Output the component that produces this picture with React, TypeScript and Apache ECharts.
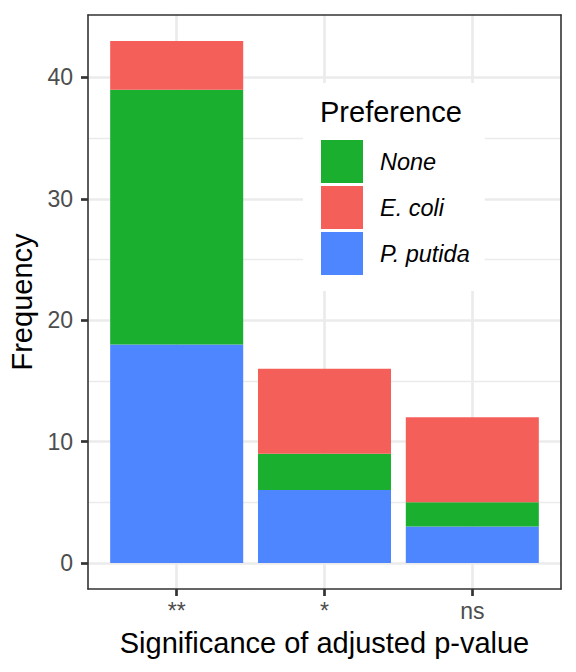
import React, { useEffect, useRef } from "react";
import * as echarts from "echarts";

const categories = ["**", "*", "ns"];
const categoryPositions = [1, 2, 3];
const pPutida = [18, 6, 3];
const noneVals = [21, 3, 2];
const eColi = [4, 7, 7];
const yMajor = [0, 10, 20, 30, 40];
const yMinor = [5, 15, 25, 35];
const legendOrder = ["None", "E. coli", "P. putida"];

const FONT = "'Liberation Sans', Arial, sans-serif";
const GRID_COLOR = "#EBEBEB";
const DARK = "#333333";

export default function App() {
  const ref = useRef<HTMLDivElement>(null);

  useEffect(() => {
    document.body.style.margin = "0";
    if (!ref.current) return;
    const chart = echarts.init(ref.current, null, { renderer: "svg" });

    const yMin = -2.15;
    const yMax = 45.15;
    const xMin = 0.4;
    const xMax = 3.6;

    const panelLeft = 88;
    const panelTop = 15;
    const panelWidth = 473;
    const panelHeight = 574;
    const unit = panelWidth / (xMax - xMin);
    const barGridLeft = panelLeft + (0.5 - xMin) * unit;
    const barGridWidth = categories.length * unit;

    const gridLines = [
      ...yMinor.map((v) => ({ yAxis: v, lineStyle: { color: GRID_COLOR, width: 1.35, type: "solid" } })),
      ...yMajor.map((v) => ({ yAxis: v, lineStyle: { color: GRID_COLOR, width: 2.7, type: "solid" } })),
      ...categoryPositions.map((v) => ({ xAxis: v, lineStyle: { color: GRID_COLOR, width: 2.7, type: "solid" } })),
    ];

    const frameLine = { show: true, onZero: false, lineStyle: { color: DARK, width: 1.6 } };

    const option: any = {
      animation: false,
      textStyle: { fontFamily: FONT },
      grid: [
        {
          left: panelLeft,
          top: panelTop,
          width: panelWidth,
          height: panelHeight,
          containLabel: false,
          outerBoundsMode: "none",
        },
        {
          left: barGridLeft,
          top: panelTop,
          width: barGridWidth,
          height: panelHeight,
          containLabel: false,
          outerBoundsMode: "none",
        },
      ],
      xAxis: [
        {
          type: "value",
          gridIndex: 0,
          min: xMin,
          max: xMax,
          z: 5,
          position: "bottom",
          splitLine: { show: false },
          axisLine: frameLine,
          name: "Significance of adjusted p-value",
          nameLocation: "middle",
          nameGap: 39,
          nameTextStyle: { fontSize: 29, color: "#000000", fontFamily: FONT },
          axisTick: {
            show: true,
            customValues: categoryPositions,
            length: 7,
            lineStyle: { color: DARK, width: 2.7 },
          },
          axisLabel: {
            show: true,
            customValues: categoryPositions,
            margin: 10,
            fontSize: 23,
            color: "#4D4D4D",
            fontFamily: FONT,
            formatter: (v: number) => categories[Math.round(v) - 1] ?? "",
          },
        },
        {
          type: "value",
          gridIndex: 0,
          min: xMin,
          max: xMax,
          z: 5,
          position: "top",
          splitLine: { show: false },
          axisLine: frameLine,
          axisTick: { show: false },
          axisLabel: { show: false },
        },
        {
          type: "category",
          gridIndex: 1,
          data: categories,
          show: false,
          axisLine: { show: false },
          axisTick: { show: false },
          axisLabel: { show: false },
          splitLine: { show: false },
        },
      ],
      yAxis: [
        {
          type: "value",
          gridIndex: 0,
          min: yMin,
          max: yMax,
          z: 5,
          position: "left",
          splitLine: { show: false },
          axisLine: frameLine,
          name: "Frequency",
          nameLocation: "middle",
          nameGap: 46,
          nameTextStyle: { fontSize: 29, color: "#000000", fontFamily: FONT },
          axisTick: {
            show: true,
            customValues: yMajor,
            length: 7,
            lineStyle: { color: DARK, width: 2.7 },
          },
          axisLabel: {
            show: true,
            customValues: yMajor,
            margin: 15,
            fontSize: 23,
            color: "#4D4D4D",
            fontFamily: FONT,
          },
        },
        {
          type: "value",
          gridIndex: 0,
          min: yMin,
          max: yMax,
          z: 5,
          position: "right",
          splitLine: { show: false },
          axisLine: frameLine,
          axisTick: { show: false },
          axisLabel: { show: false },
        },
        {
          type: "value",
          gridIndex: 1,
          min: yMin,
          max: yMax,
          show: false,
          axisLine: { show: false },
          axisTick: { show: false },
          axisLabel: { show: false },
          splitLine: { show: false },
        },
      ],
      legend: {
        show: true,
        data: legendOrder,
        orient: "vertical",
        left: 303,
        top: 83,
        padding: [57, 15, 16, 18],
        backgroundColor: "#FFFFFF",
        itemWidth: 42,
        itemHeight: 43,
        itemGap: 3,
        icon: "rect",
        selectedMode: false,
        itemStyle: { borderWidth: 0 },
        textStyle: {
          fontSize: 23.5,
          fontStyle: "italic",
          color: "#000000",
          fontFamily: FONT,
          padding: [0, 0, 0, 12],
        },
      },
      graphic: [
        {
          type: "text",
          x: 320,
          y: 112,
          z: 10,
          style: {
            text: "Preference",
            fontSize: 29,
            fontFamily: FONT,
            fill: "#000000",
            verticalAlign: "middle",
            align: "left",
          },
        },
      ],
      series: [
        {
          name: "gridlines",
          type: "line",
          xAxisIndex: 0,
          yAxisIndex: 0,
          data: [],
          showSymbol: false,
          silent: true,
          z: 1,
          markLine: {
            silent: true,
            z: 1,
            symbol: ["none", "none"],
            label: { show: false },
            emphasis: { disabled: true },
            data: gridLines,
          },
        },
        {
          name: "P. putida",
          type: "bar",
          stack: "total",
          xAxisIndex: 2,
          yAxisIndex: 2,
          barWidth: "90%",
          z: 2,
          itemStyle: { color: "#4E86FF" },
          data: pPutida,
        },
        {
          name: "None",
          type: "bar",
          stack: "total",
          xAxisIndex: 2,
          yAxisIndex: 2,
          barWidth: "90%",
          z: 2,
          itemStyle: { color: "#1AAF2F" },
          data: noneVals,
        },
        {
          name: "E. coli",
          type: "bar",
          stack: "total",
          xAxisIndex: 2,
          yAxisIndex: 2,
          barWidth: "90%",
          z: 2,
          itemStyle: { color: "#F55F5A" },
          data: eColi,
        },
      ],
    };

    chart.setOption(option);
    return () => {
      chart.dispose();
    };
  }, []);

  return <div ref={ref} style={{ width: 576, height: 672 }} />;
}
